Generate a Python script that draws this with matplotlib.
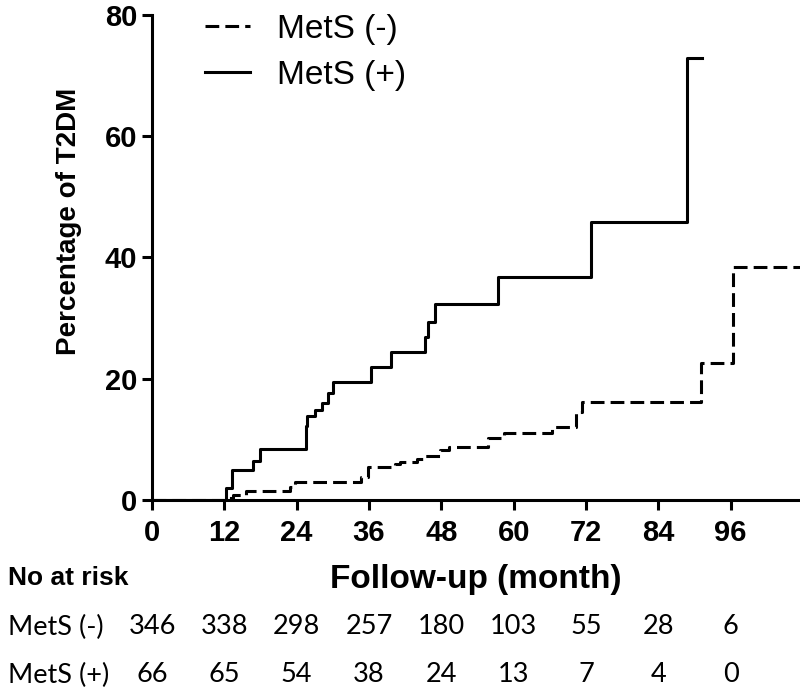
import matplotlib
matplotlib.use("Agg")
import matplotlib.pyplot as plt
from matplotlib import transforms

plt.rcParams['font.family'] = ['Liberation Sans', 'DejaVu Sans']

# step curves (month, cumulative % with T2DM)
neg_months = [0, 12.0, 13.5, 15.6, 22.9, 23.7, 34.7, 35.8, 40.3, 41.2, 44.0, 45.0,
              47.8, 49.2, 55.8, 58.4, 66.4, 70.4, 71.3, 91.1, 96.4, 108]
neg_pct = [0, 0.4, 0.8, 1.4, 2.2, 2.9, 3.8, 5.5, 5.9, 6.3, 6.7, 7.3,
           8.2, 8.8, 10.3, 11.0, 12.1, 14.5, 16.2, 22.6, 38.4, 38.4]

pos_months = [0, 12.3, 13.3, 16.7, 17.9, 25.5, 25.7, 27.0, 28.2, 29.2, 30.0, 36.4,
              39.7, 45.3, 45.8, 47.0, 57.4, 72.8, 88.7, 91.2]
pos_pct = [0, 2.0, 5.0, 6.5, 8.4, 12.2, 13.8, 14.9, 16.0, 17.6, 19.5, 21.9,
           24.4, 26.9, 29.4, 32.3, 36.8, 45.9, 72.9, 72.9]

risk_months = [0, 12, 24, 36, 48, 60, 72, 84, 96]
risk_neg = [346, 338, 298, 257, 180, 103, 55, 28, 6]
risk_pos = [66, 65, 54, 38, 24, 13, 7, 4, 0]
labels = ['MetS (-)', 'MetS (+)']

fig = plt.figure(figsize=(8, 6.98), dpi=100)
ax = fig.add_axes([0.19, 0.2837, 0.81, 0.6948])

lw = 2.2
ax.step(neg_months, neg_pct, where='post', color='black', lw=lw,
        linestyle=(0, (4.5, 2.0)), label=labels[0])
ax.step(pos_months, pos_pct, where='post', color='black', lw=lw, label=labels[1])

ax.set_xlim(0, 107.5)
ax.set_ylim(0, 80)
ax.set_xticks(risk_months)
ax.set_yticks([0, 20, 40, 60, 80])
for s in ['top', 'right']:
    ax.spines[s].set_visible(False)
for s in ['left', 'bottom']:
    ax.spines[s].set_linewidth(2.2)
ax.tick_params(width=2.2, length=7, labelsize=21, direction='out')
ax.tick_params(axis='x', pad=7)
for t in ax.get_xticklabels() + ax.get_yticklabels():
    t.set_fontweight('bold')

ax.set_xlabel('Follow-up (month)', fontsize=24, fontweight='bold', labelpad=12)
ax.set_ylabel('Percentage of T2DM', fontsize=20, fontweight='bold')
ax.yaxis.set_label_coords(-0.108, 0.575)

ax.legend(loc='upper left', bbox_to_anchor=(188 / 800, 1 + 3 / 698),
          bbox_transform=fig.transFigure, frameon=False, fontsize=24,
          handlelength=1.36, handletextpad=0.8, labelspacing=0.45, borderpad=0)

# number at risk table
fig.text(8 / 800, 1 - 578 / 698, 'No at risk', fontsize=19, fontweight='bold',
         va='center', ha='left')
tf = transforms.blended_transform_factory(ax.transData, fig.transFigure)
rows = [(labels[0], risk_neg, 1 - 627 / 698), (labels[1], risk_pos, 1 - 675 / 698)]
for name, vals, yy in rows:
    fig.text(8 / 800, yy, name, fontsize=19.5, family=['Lato', 'DejaVu Sans'],
             va='center', ha='left')
    for m, v in zip(risk_months, vals):
        ax.text(m, yy, str(v), transform=tf, fontsize=19.5,
                family=['Lato', 'DejaVu Sans'], va='center', ha='center',
                clip_on=False)

fig.savefig('out.png', dpi=100)
